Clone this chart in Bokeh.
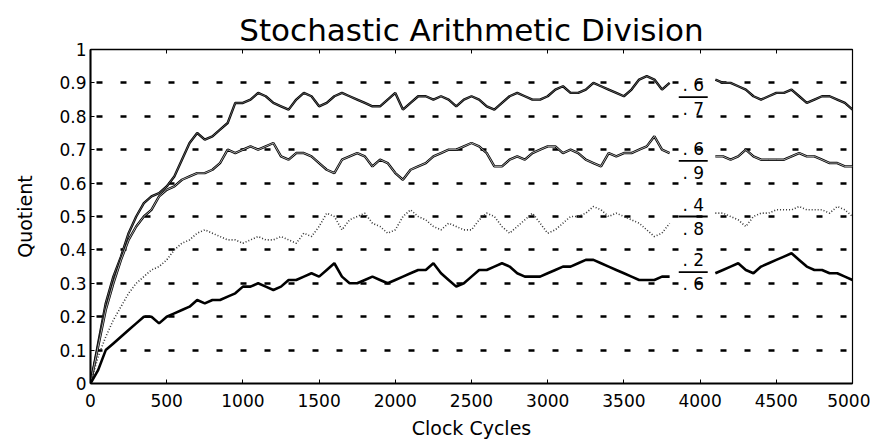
from bokeh.plotting import figure
from bokeh.models import LinearAxis, FixedTicker, Range1d, ColumnDataSource
from bokeh.core.properties import value
from bokeh.embed import file_html
from bokeh.resources import INLINE

nan = float("nan")
cycles = list(range(0, 5001, 50))

# quotient estimates, gap around the labels
q_6_7 = [0.0, 0.12, 0.24, 0.32, 0.38, 0.45, 0.50, 0.54, 0.56, 0.57,
         0.59, 0.62, 0.67, 0.72, 0.75, 0.73, 0.74, 0.76, 0.78, 0.84,
         0.84, 0.85, 0.87, 0.86, 0.84, 0.83, 0.82, 0.85, 0.87, 0.86,
         0.83, 0.84, 0.86, 0.87, 0.86, 0.85, 0.84, 0.83, 0.83, 0.85,
         0.87, 0.82, 0.84, 0.86, 0.86, 0.85, 0.86, 0.85, 0.83, 0.85,
         0.86, 0.85, 0.83, 0.82, 0.84, 0.86, 0.87, 0.86, 0.85, 0.85,
         0.86, 0.88, 0.89, 0.87, 0.87, 0.88, 0.90, 0.89, 0.88, 0.87,
         0.86, 0.88, 0.91, 0.92, 0.91, 0.88, 0.90, nan, nan, nan,
         nan, nan, 0.91, 0.90, 0.90, 0.89, 0.88, 0.86, 0.85, 0.86,
         0.87, 0.87, 0.88, 0.86, 0.84, 0.85, 0.86, 0.86, 0.85, 0.84, 0.82]
q_6_9 = [0.0, 0.11, 0.22, 0.30, 0.37, 0.43, 0.47, 0.50, 0.52, 0.56,
         0.58, 0.59, 0.61, 0.62, 0.63, 0.63, 0.64, 0.66, 0.70, 0.69,
         0.70, 0.71, 0.70, 0.71, 0.72, 0.68, 0.67, 0.69, 0.69, 0.68,
         0.66, 0.64, 0.63, 0.67, 0.68, 0.69, 0.68, 0.65, 0.67, 0.66,
         0.63, 0.61, 0.64, 0.65, 0.66, 0.68, 0.69, 0.70, 0.70, 0.71,
         0.72, 0.71, 0.69, 0.65, 0.65, 0.67, 0.68, 0.67, 0.69, 0.70,
         0.71, 0.71, 0.69, 0.70, 0.69, 0.67, 0.66, 0.65, 0.69, 0.68,
         0.69, 0.69, 0.70, 0.71, 0.74, 0.70, 0.69, nan, nan, nan,
         nan, nan, 0.68, 0.68, 0.67, 0.68, 0.70, 0.68, 0.67, 0.67,
         0.67, 0.67, 0.68, 0.69, 0.68, 0.68, 0.67, 0.66, 0.66, 0.65, 0.65]
q_4_8 = [0.0, 0.08, 0.14, 0.19, 0.23, 0.27, 0.30, 0.32, 0.34, 0.35,
         0.37, 0.40, 0.42, 0.43, 0.45, 0.46, 0.45, 0.44, 0.43, 0.43,
         0.42, 0.43, 0.44, 0.43, 0.43, 0.44, 0.43, 0.42, 0.45, 0.44,
         0.47, 0.51, 0.50, 0.46, 0.49, 0.50, 0.51, 0.48, 0.47, 0.45,
         0.46, 0.50, 0.52, 0.50, 0.49, 0.47, 0.46, 0.48, 0.47, 0.46,
         0.46, 0.49, 0.51, 0.50, 0.47, 0.45, 0.47, 0.49, 0.51, 0.48,
         0.45, 0.46, 0.48, 0.50, 0.50, 0.51, 0.53, 0.52, 0.50, 0.51,
         0.50, 0.49, 0.48, 0.46, 0.44, 0.45, 0.48, nan, nan, nan,
         nan, nan, 0.51, 0.51, 0.50, 0.49, 0.47, 0.50, 0.51, 0.51,
         0.52, 0.52, 0.52, 0.53, 0.52, 0.52, 0.52, 0.51, 0.53, 0.52, 0.50]
q_2_6 = [0.0, 0.04, 0.10, 0.12, 0.14, 0.16, 0.18, 0.20, 0.20, 0.18,
         0.20, 0.21, 0.22, 0.23, 0.25, 0.24, 0.25, 0.25, 0.26, 0.27,
         0.29, 0.29, 0.30, 0.29, 0.28, 0.29, 0.31, 0.31, 0.32, 0.33,
         0.32, 0.34, 0.36, 0.32, 0.30, 0.30, 0.31, 0.32, 0.31, 0.30,
         0.31, 0.32, 0.33, 0.34, 0.34, 0.36, 0.33, 0.31, 0.29, 0.30,
         0.32, 0.34, 0.34, 0.35, 0.36, 0.35, 0.33, 0.32, 0.32, 0.32,
         0.33, 0.34, 0.35, 0.35, 0.36, 0.37, 0.37, 0.36, 0.35, 0.34,
         0.33, 0.32, 0.31, 0.31, 0.31, 0.32, 0.32, nan, nan, nan,
         nan, nan, 0.33, 0.34, 0.35, 0.36, 0.34, 0.33, 0.35, 0.36,
         0.37, 0.38, 0.39, 0.37, 0.35, 0.34, 0.34, 0.33, 0.33, 0.32, 0.31]

numerators = [". 6", ". 6", ". 4", ". 2"]
denominators = [". 7", ". 9", ". 8", ". 6"]
num_vals = [0.6, 0.6, 0.4, 0.2]
den_vals = [0.7, 0.9, 0.8, 0.6]
label_cycle = 3955

y_ticks = [0, 0.1, 0.2, 0.3, 0.4, 0.5, 0.6, 0.7, 0.8, 0.9, 1]
y_tick_labels = ["0", "0.1", "0.2", "0.3", "0.4", "0.5", "0.6", "0.7", "0.8", "0.9", "1"]
x_ticks = [0, 500, 1000, 1500, 2000, 2500, 3000, 3500, 4000, 4500, 5000]
title_text = "Stochastic Arithmetic Division"

FONT = "DejaVu Sans"

p = figure(width=870, height=448, output_backend="svg", toolbar_location=None,
           x_range=Range1d(0, 5000), y_range=Range1d(0, 1),
           min_border_left=90, min_border_right=18, min_border_top=49,
           min_border_bottom=65, background_fill_color="white")
p.title.text = title_text
p.title.align = "center"
p.title.vertical_align = "top"
p.title.text_font = FONT
p.title.text_font_size = "31px"
p.title.text_font_style = "normal"
p.title.text_color = "black"
p.title.text_line_height = 0.6
p.title.standoff = 0
p.outline_line_color = "black"
p.outline_line_width = 1.2

p.xgrid.visible = False
p.ygrid.grid_line_color = "black"
p.ygrid.grid_line_width = 2.5
p.ygrid.grid_line_dash = "6 18"
p.ygrid.grid_line_dash_offset = 18

for ax in (p.xaxis[0], p.yaxis[0]):
    ax.axis_line_width = 2
    ax.major_tick_in = 4
    ax.major_tick_out = 0
    ax.minor_tick_line_color = None
    ax.major_label_text_font = FONT
    ax.major_label_text_font_size = "17px"
    ax.major_label_text_color = "black"
    ax.axis_label_text_font = FONT
    ax.axis_label_text_font_size = "19px"
    ax.axis_label_text_font_style = "normal"
    ax.axis_label_text_color = "black"

p.xaxis.ticker = FixedTicker(ticks=x_ticks)
p.xaxis.major_label_standoff = 10
p.xaxis.axis_label = "Clock Cycles"
p.xaxis.axis_label_standoff = 7

p.yaxis.ticker = FixedTicker(ticks=y_ticks)
p.yaxis.major_label_overrides = {t: l for t, l in zip(y_ticks, y_tick_labels)}
p.yaxis.major_label_standoff = 4
p.yaxis.axis_label = "Quotient"
p.yaxis.axis_label_standoff = 20

top = LinearAxis(ticker=FixedTicker(ticks=x_ticks), major_tick_in=4, major_tick_out=0,
                 minor_tick_line_color=None, axis_line_width=1.5,
                 major_label_standoff=0,
                 major_label_overrides={t: "" for t in x_ticks})
p.add_layout(top, "above")

src = ColumnDataSource(dict(x=cycles, a=q_6_7, b=q_6_9, c=q_4_8, d=q_2_6))
p.line("x", "a", source=src, line_color="black", line_width=2.4)
p.line("x", "a", source=src, line_color="#9a9a9a", line_width=0.6)
p.line("x", "b", source=src, line_color="black", line_width=2.4)
p.line("x", "b", source=src, line_color="#d0d0d0", line_width=0.8)
p.line("x", "c", source=src, line_color="#333333", line_width=1.6, line_dash="1 2")
p.line("x", "d", source=src, line_color="black", line_width=2.6)

quot = [n / d for n, d in zip(num_vals, den_vals)]
lab = ColumnDataSource(dict(x=[label_cycle] * 4, y=quot, num=numerators, den=denominators,
                            x0=[label_cycle - 95] * 4, x1=[label_cycle + 95] * 4))
p.segment("x0", "y", "x1", "y", source=lab, line_color="black", line_width=1.8)
p.text("x", "y", text="num", source=lab, text_font=value(FONT), text_font_size="17px",
       text_align="center", text_baseline="bottom", y_offset=-2, text_color="black")
p.text("x", "y", text="den", source=lab, text_font=value(FONT), text_font_size="17px",
       text_align="center", text_baseline="top", y_offset=2, text_color="black")

open("out.html", "w").write(file_html(p, INLINE))
